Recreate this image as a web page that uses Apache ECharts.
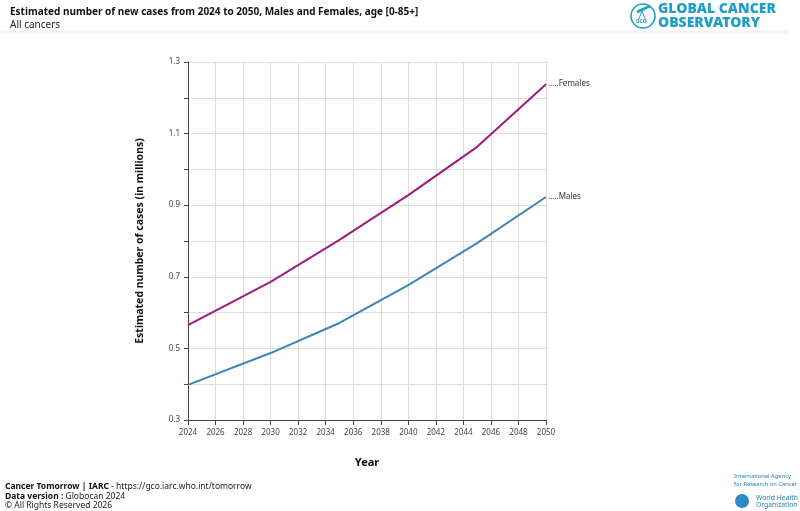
<!DOCTYPE html>
<html>
<head>
<meta charset="utf-8">
<script src="https://cdn.jsdelivr.net/npm/echarts@6/dist/echarts.min.js"></script>
<style>
  html, body { margin: 0; padding: 0; background: #fff; }
  #chart { width: 800px; height: 511px; }
</style>
</head>
<body>
<div id="chart"></div>
<script>
  // projection years (points where the curve bends)
  var years = [2024, 2030, 2035, 2040, 2045, 2050];
  var females = [0.565, 0.686, 0.803, 0.928, 1.063, 1.238];
  var males = [0.398, 0.487, 0.571, 0.677, 0.794, 0.923];
  var yLabels = [0.3, 0.5, 0.7, 0.9, 1.1, 1.3];

  function pairs(vals) {
    return years.map(function (y, i) { return [y, vals[i]]; });
  }

  var myChart = echarts.init(document.getElementById('chart'));
  var font = 'Noto Sans';

  var option = {
    backgroundColor: '#fff',
    animation: false,
    textStyle: { fontFamily: font },
    title: [{
      text: 'Estimated number of new cases from 2024 to 2050, Males and Females, age [0-85+]',
      subtext: 'All cancers',
      left: 5,
      top: 2,
      itemGap: 3,
      textStyle: { fontSize: 10, fontWeight: 'bold', color: '#111', fontFamily: font },
      subtextStyle: { fontSize: 10, color: '#222', fontFamily: font }
    }],
    grid: { left: 188, right: 254, top: 62, bottom: 91 },
    xAxis: {
      type: 'value',
      min: 2024,
      max: 2050,
      interval: 2,
      name: 'Year',
      nameLocation: 'middle',
      nameGap: 37,
      nameTextStyle: { fontSize: 11, fontWeight: 'bold', color: '#111' },
      axisLine: { lineStyle: { color: '#444' } },
      axisTick: { show: true, length: 5, lineStyle: { color: '#444' } },
      axisLabel: { fontSize: 8, color: '#444', margin: 9, formatter: function (v) { return String(v); } },
      splitLine: { show: true, lineStyle: { color: '#dedede' } }
    },
    yAxis: {
      type: 'value',
      min: 0.3,
      max: 1.3,
      interval: 0.1,
      name: 'Estimated number of cases (in millions)',
      nameLocation: 'middle',
      nameGap: 42,
      nameTextStyle: { fontSize: 10.5, fontWeight: 'bold', color: '#111' },
      axisLine: { show: true, lineStyle: { color: '#444' } },
      axisTick: { show: true, length: 4, lineStyle: { color: '#444' } },
      axisLabel: {
        fontSize: 8, color: '#444', margin: 8,
        formatter: function (v) {
          var r = Math.round(v * 10) / 10;
          return yLabels.indexOf(r) >= 0 ? r.toFixed(1) : '';
        }
      },
      splitLine: { show: true, lineStyle: { color: '#dedede' } }
    },
    series: [{
      name: 'Females',
      type: 'line',
      data: pairs(females),
      showSymbol: false,
      lineStyle: { color: '#9e1b80', width: 2 },
      itemStyle: { color: '#9e1b80' },
      endLabel: { show: true, formatter: '.....Females', fontSize: 8, color: '#333', distance: 2 }
    }, {
      name: 'Males',
      type: 'line',
      data: pairs(males),
      showSymbol: false,
      lineStyle: { color: '#3c86b3', width: 2 },
      itemStyle: { color: '#3c86b3' },
      endLabel: { show: true, formatter: '.....Males', fontSize: 8, color: '#333', distance: 2 }
    }],
    graphic: [
      // header separator
      { type: 'line', shape: { x1: 0, y1: 32, x2: 788, y2: 32 }, style: { stroke: '#e6e6e6', lineWidth: 1 } },
      // GCO logo
      { type: 'circle', shape: { cx: 643, cy: 16, r: 12 }, style: { fill: 'none', stroke: '#1f9fc7', lineWidth: 1.6 } },
      { type: 'line', shape: { x1: 637, y1: 12, x2: 650, y2: 6 }, style: { stroke: '#1f9fc7', lineWidth: 3 } },
      { type: 'line', shape: { x1: 642, y1: 11, x2: 638, y2: 21 }, style: { stroke: '#1f9fc7', lineWidth: 1 } },
      { type: 'line', shape: { x1: 642, y1: 11, x2: 646, y2: 21 }, style: { stroke: '#1f9fc7', lineWidth: 1 } },
      { type: 'text', left: 636, top: 19, style: { text: 'GCO', fontSize: 5, fontWeight: 'bold', fill: '#1f9fc7', fontFamily: font } },
      { type: 'text', left: 658, top: 2, style: { text: 'GLOBAL CANCER\nOBSERVATORY', fontSize: 14, lineHeight: 14, fontWeight: 900, fill: '#1f9fc7', fontFamily: font } },
      // footer
      {
        type: 'text', left: 5, top: 482,
        style: {
          text: '{b|Cancer Tomorrow | IARC} - https://gco.iarc.who.int/tomorrow\n{b|Data version :} Globocan 2024\n© All Rights Reserved 2026',
          fontSize: 8.5, lineHeight: 9.5, fill: '#222', fontFamily: font,
          rich: { b: { fontWeight: 'bold', fontSize: 8.5, fill: '#111', fontFamily: font } }
        }
      },
      { type: 'text', left: 734, top: 472, style: { text: 'International Agency\nfor Research on Cancer', fontSize: 5.8, lineHeight: 8, fill: '#1f7fb0', fontFamily: font } },
      { type: 'circle', shape: { cx: 742, cy: 501, r: 7 }, style: { fill: '#2d8ac3' } },
      { type: 'text', left: 756, top: 494, style: { text: 'World Health\nOrganization', fontSize: 6.8, lineHeight: 7.5, fill: '#1f7fb0', fontFamily: font } }
    ]
  };
  myChart.setOption(option);
</script>
</body>
</html>
